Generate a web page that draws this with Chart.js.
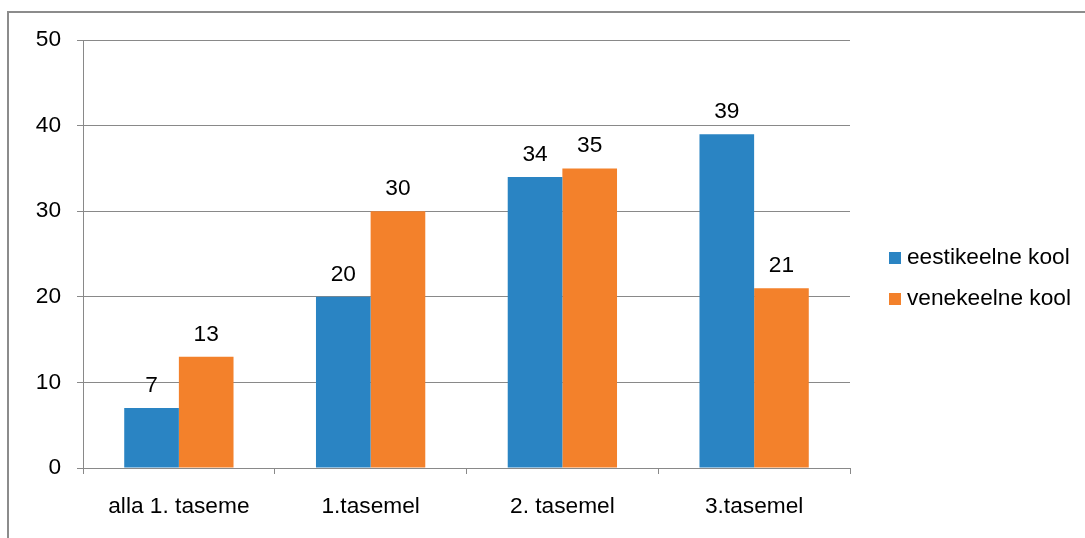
<!DOCTYPE html>
<html>
<head>
<meta charset="utf-8">
<script src="https://cdn.jsdelivr.net/npm/chart.js@4"></script>
<style>
html,body{margin:0;padding:0;background:#fff;}
#wrap{position:relative;width:1085px;height:538px;}
</style>
</head>
<body>
<div id="wrap"><canvas id="c" width="1085" height="538"></canvas></div>
<script>
const categories = ["alla 1. taseme", "1.tasemel", "2. tasemel", "3.tasemel"];
const seriesNames = ["eestikeelne kool", "venekeelne kool"];
const eestiValues = [7, 20, 34, 39];
const veneValues = [13, 30, 35, 21];
const yTicks = [0, 10, 20, 30, 40, 50];

const BLUE = "#2a84c3";
const ORANGE = "#f3812b";
const GRID = "#898989";
const FONT = "Liberation Sans, Arial, sans-serif";
const FSIZE = 22.7;

const framePlugin = {
  id: "frame",
  afterDraw(chart) {
    const ctx = chart.ctx;
    ctx.save();
    ctx.strokeStyle = "#8c8c8c";
    ctx.lineWidth = 2;
    ctx.beginPath();
    ctx.moveTo(8, 538);
    ctx.lineTo(8, 12);
    ctx.lineTo(1085, 12);
    ctx.stroke();
    ctx.restore();
  }
};

const valueLabels = {
  id: "valueLabels",
  afterDatasetsDraw(chart) {
    const ctx = chart.ctx;
    ctx.save();
    ctx.font = FSIZE + "px " + FONT;
    ctx.fillStyle = "#000";
    ctx.textAlign = "center";
    ctx.textBaseline = "alphabetic";
    chart.data.datasets.forEach((ds, i) => {
      const meta = chart.getDatasetMeta(i);
      meta.data.forEach((bar, j) => {
        ctx.fillText(String(ds.data[j]), bar.x, bar.y - 16);
      });
    });
    ctx.restore();
  }
};

const customLegend = {
  id: "customLegend",
  afterDraw(chart) {
    const ctx = chart.ctx;
    ctx.save();
    ctx.font = FSIZE + "px " + FONT;
    ctx.textAlign = "left";
    ctx.textBaseline = "middle";
    const ys = [258, 299];
    chart.data.datasets.forEach((ds, i) => {
      ctx.fillStyle = ds.backgroundColor;
      ctx.fillRect(889, ys[i] - 6, 12, 12);
      ctx.fillStyle = "#000";
      ctx.fillText(ds.label, 907, ys[i]);
    });
    ctx.restore();
  }
};

new Chart(document.getElementById("c"), {
  type: "bar",
  data: {
    labels: categories,
    datasets: [
      { label: seriesNames[0], data: eestiValues, backgroundColor: BLUE },
      { label: seriesNames[1], data: veneValues, backgroundColor: ORANGE }
    ]
  },
  options: {
    responsive: false,
    animation: false,
    devicePixelRatio: 1,
    layout: { padding: { top: 40, right: 235, left: 0, bottom: 0 } },
    datasets: { bar: { categoryPercentage: 0.57, barPercentage: 1.0 } },
    plugins: { legend: { display: false }, tooltip: { enabled: false } },
    scales: {
      x: {
        afterFit(s) { s.height = 70; },
        grid: { drawOnChartArea: false, offset: true, tickLength: 6, color: GRID, lineWidth: 1 },
        border: { display: true, color: GRID, width: 1 },
        ticks: { font: { family: FONT, size: FSIZE }, color: "#000", padding: 19, maxRotation: 0 }
      },
      y: {
        min: 0, max: 50,
        afterFit(s) { s.width = 83; },
        afterBuildTicks(s) { s.ticks = yTicks.map(v => ({ value: v })); },
        grid: { color: GRID, tickLength: 6, lineWidth: 1 },
        border: { display: true, color: GRID, width: 1 },
        ticks: { font: { family: FONT, size: FSIZE }, color: "#000", padding: 16 }
      }
    }
  },
  plugins: [framePlugin, valueLabels, customLegend]
});
</script>
</body>
</html>
